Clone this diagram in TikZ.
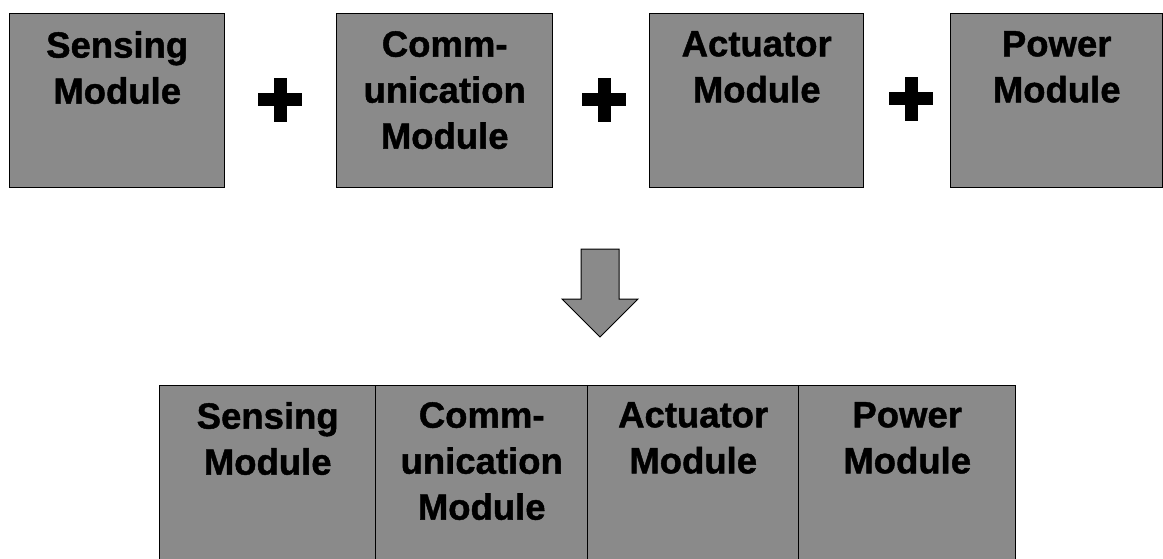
\documentclass[tikz,border=0pt]{standalone}
\usepackage{fontspec}
\setmainfont{Liberation Sans}
\newfontfamily\modfont[FakeBold=1.2]{Liberation Sans Bold}
\definecolor{boxgray}{RGB}{138,138,138}
\begin{document}
\begin{tikzpicture}[x=1pt,y=-1pt,
  modbox/.style={draw=black, line width=1.4pt, fill=boxgray, minimum height=174pt, inner sep=0pt, anchor=north west},
  cellbox/.style={draw=black, line width=1.4pt, fill=boxgray, minimum height=180pt, inner sep=0pt, anchor=north west},
  modtext/.style={font=\modfont\fontsize{36.5}{46}\selectfont, align=center, inner sep=0pt, anchor=north},
  plusbar/.style={fill=black}
]
\useasboundingbox (0,0) rectangle (1163,559);
\clip (0,0) rectangle (1163,559);

% top row
\node[modbox, minimum width=215pt] (s) at (9,13) {};
\node[modbox, minimum width=216pt] (c) at (336,13) {};
\node[modbox, minimum width=214pt] (a) at (649,13) {};
\node[modbox, minimum width=212pt] (p) at (950,13) {};
\node[modtext] (st) at ([yshift=-18pt]s.north) {Sensing\\Module};
\node[modtext] (ct) at ([yshift=-18pt]c.north) {Comm-\\unication\\Module};
\node[modtext] (at) at ([yshift=-18pt]a.north) {Actuator\\Module};
\node[modtext] (pt) at ([yshift=-18pt]p.north) {Power\\Module};

% plus signs
\coordinate (p1) at (280,100);
\coordinate (p2) at (604,100);
\coordinate (p3) at (911,99);
\foreach \q in {p1,p2,p3}{
  \fill[plusbar] (\q) ++(-22,-6.5) rectangle ++(44,13);
  \fill[plusbar] (\q) ++(-6.5,-22) rectangle ++(13,44);
}

% arrow
\filldraw[fill=boxgray, draw=black, line width=1pt, line join=miter]
  (581,249) -- (619,249) -- (619,299) -- (638,299) -- (600,337) -- (562,299) -- (581,299) -- cycle;

% bottom combined module
\node[cellbox, minimum width=216pt] (b1) at (159,385) {};
\node[cellbox, minimum width=212pt] (b2) at (375,385) {};
\node[cellbox, minimum width=211pt] (b3) at (587,385) {};
\node[cellbox, minimum width=217pt] (b4) at (798,385) {};
\node[modtext] (b1t) at ([yshift=-17pt]b1.north) {Sensing\\Module};
\node[modtext] (b2t) at ([yshift=-17pt]b2.north) {Comm-\\unication\\Module};
\node[modtext] (b3t) at ([yshift=-17pt]b3.north) {Actuator\\Module};
\node[modtext] (b4t) at ([yshift=-17pt]b4.north) {Power\\Module};
\end{tikzpicture}
\end{document}
